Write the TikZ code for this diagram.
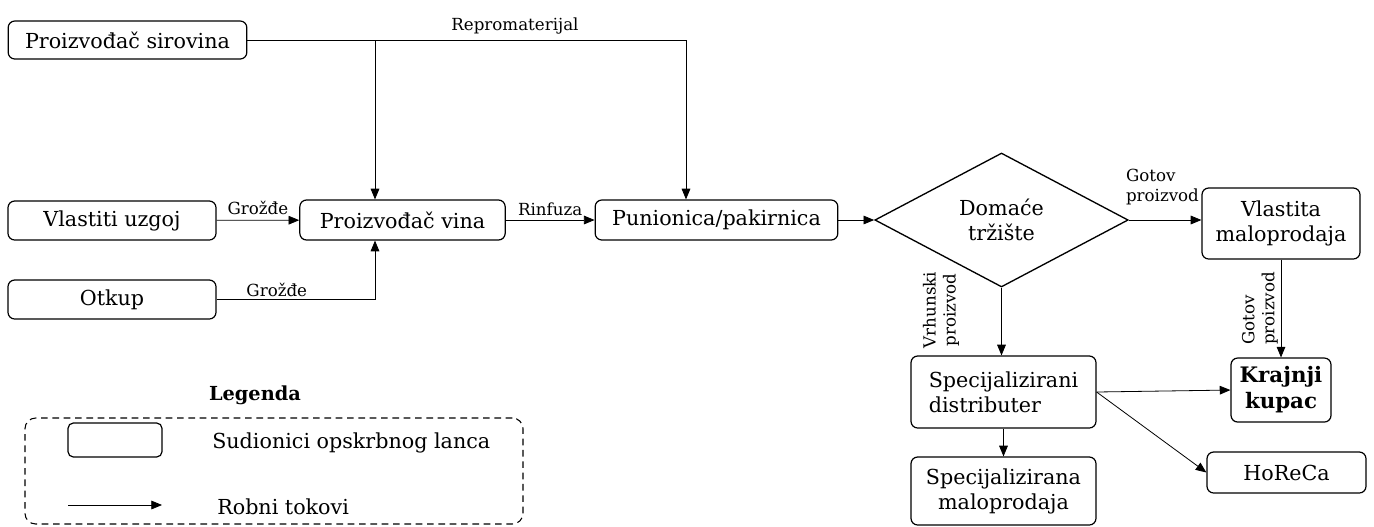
\documentclass[tikz,border=0pt]{standalone}
\usepackage{fontspec}
\setmainfont{DejaVu Serif}
\usetikzlibrary{arrows.meta,shapes.geometric}

\begin{document}
\begin{tikzpicture}[
                    x=0.75pt, y=-0.75pt,
                    font=\fontsize{15.5}{18.75}\selectfont,
                    >={Triangle[length=8pt,width=6.5pt]},
                    box/.style={
                        draw,
                        rounded corners=5pt,
                        line width=0.9pt,
                        align=center,
                        inner sep=2pt
                    },
                    lbl/.style={font=\fontsize{12.5}{15}\selectfont, inner sep=2pt},
                    wire/.style={line width=0.6pt},
                    flow/.style={wire, ->}
                ]
                    \useasboundingbox (0,0) rectangle (1374,526);

                    \node[box, minimum width=179pt, minimum height=28.5pt] (ps) at (127.5,40) {Proizvođač sirovina};
                    \node[box, minimum width=156pt, minimum height=29.25pt] (vu) at (112,220.5) {Vlastiti uzgoj};
                    \node[box, minimum width=156pt, minimum height=29.25pt, node distance=59.25pt] (ot) [below of=vu] {Otkup};
                    \node[box, minimum width=154pt, minimum height=30pt] (pv) at (402.5,220) {Proizvođač vina};
                    \node[box, minimum width=182pt, minimum height=30pt] (pp) at (716.5,220) {Punionica/pakirnica};
                    \node[draw, diamond, line width=1pt, minimum width=190pt, minimum height=100.5pt, inner sep=0pt, align=center] (dt) at (1001.5,220) {Domaće\\tržište};
                    \node[box, minimum width=118.5pt, minimum height=53.25pt] (vm) at (1281,223.5) {Vlastita\\maloprodaja};
                    \node[box, font=\fontsize{16}{19.5}\selectfont\bfseries, minimum width=75pt, minimum height=48pt, node distance=124.9pt] (kk) [below of=vm] {Krajnji\\kupac};
                    \node[box, align=left, minimum width=138.75pt, minimum height=54pt] (sd) at (1003.5,392) {Specijalizirani\\distributer};
                    \node[box, minimum width=138.75pt, minimum height=51pt, node distance=74.25pt] (sm) [below of=sd] {Specijalizirana\\maloprodaja};
                    \node[box, minimum width=119.25pt, minimum height=30.75pt] (hr) at (1286.5,472.5) {HoReCa};

                    \coordinate (rp) at (686,40);
                    \coordinate (gr) at (375,40);

                    % Edges
                    \draw[wire] (ps) -- node[lbl, above, pos=0.61, yshift=2pt] (rm) {Repromaterijal} (rp);
                    \draw[flow] (rp) -- (rp |- pp.north);
                    \draw[flow] (gr) -- (gr |- pv.north);
                    \draw[flow] (vu) -- node[lbl, above, yshift=2pt] (g1) {Grožđe} (pv);
                    \draw[flow] (ot) -| node[lbl, above, pos=0.19] (g2) {Grožđe} (gr |- pv.south);
                    \draw[flow] (pv) -- node[lbl, above, yshift=1pt] (rf) {Rinfuza} (pp);
                    \draw[flow] (pp) -- (dt);
                    \draw[flow] (dt.east) -- node[lbl, above, align=left, yshift=9pt, xshift=-2pt] (gp1) {Gotov\\proizvod} (dt.east -| vm.west);
                    \draw[flow] (dt.south) -- (dt.south |- sd.north);
                    \node[lbl, rotate=90, align=center] (vp) at (941,310) {Vrhunski\\proizvod};
                    \draw[flow] (vm.south) -- node[lbl, rotate=90, anchor=south, align=left] (gp2) {Gotov\\proizvod} (vm.south |- kk.north);
                    \draw[flow] (sd) -- (sm);
                    \draw[flow] (sd.east) -- (kk.west);
                    \draw[flow] (sd.east) -- (hr.west);

                    % Legend
                    \node[font=\fontsize{14.5}{16}\selectfont\bfseries] (lg) at (255,395) {Legenda};
                    \node[draw, dash pattern=on 5pt off 3.5pt, rounded corners=8pt, line width=0.8pt, minimum width=373.5pt, minimum height=79.5pt] (lb) at (274,471) {};
                    \node[box, minimum width=70.5pt, minimum height=25.5pt, rounded corners=4pt] (lx) at (115,440) {};
                    \node[anchor=west, inner sep=0pt] (ls) at (212,443) {Sudionici opskrbnog lanca};
                    \coordinate (la) at (68,505);
                    \coordinate (lc) at (162,505);
                    \draw[flow] (la) -- (lc);
                    \node[anchor=west, inner sep=0pt] (lt) at (217,507) {Robni tokovi};
                \end{tikzpicture}
\end{document}
